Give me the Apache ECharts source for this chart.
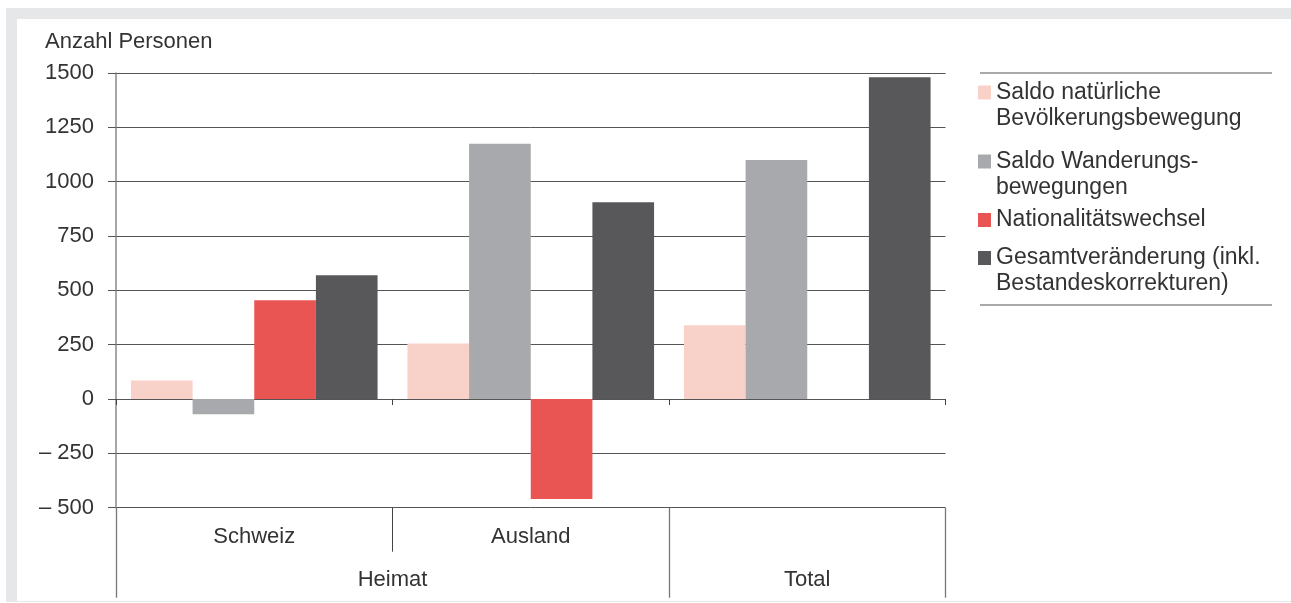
<!DOCTYPE html>
<html lang="de">
<head>
<meta charset="utf-8">
<title>Bevölkerungsveränderung nach Heimat</title>
<script src="https://cdn.jsdelivr.net/npm/echarts@6/dist/echarts.min.js"></script>
<style>
  html, body { margin: 0; padding: 0; background: #ffffff; }
  #frame { position: absolute; left: 6px; top: 8px; width: 1285px; height: 594px; background: #e6e7e8; }
  #panel { position: absolute; left: 17px; top: 19px; width: 1274px; height: 582px; background: #ffffff; }
  #chart { position: absolute; left: 0; top: 0; width: 1291px; height: 603px; }
</style>
</head>
<body>
<div id="frame"></div>
<div id="panel"></div>
<div id="chart"></div>
<script>
// Kategorien der ersten Ebene und ihre Gruppierung (zweite Ebene)
const categories = ['Schweiz', 'Ausland', 'Total'];
const subLabels = ['Schweiz', 'Ausland'];
const groups = [
  { name: 'Heimat', span: 2 },
  { name: 'Total', span: 1 }
];

// Werte je Komponente der Bevölkerungsveränderung
const seriesNames = [
  'Saldo natürliche\nBevölkerungsbewegung',
  'Saldo Wanderungs-\nbewegungen',
  'Nationalitätswechsel',
  'Gesamtveränderung (inkl.\nBestandeskorrekturen)'
];
const saldoNatuerlich = [85, 255, 340];
const saldoWanderung = [-70, 1175, 1100];
const nationalitaetswechsel = [455, -460, null];
const gesamtveraenderung = [570, 905, 1480];

const yTicks = [-500, -250, 0, 250, 500, 750, 1000, 1250, 1500];

const colors = ['#f8d1c8', '#a8a9ad', '#e85552', '#58585a'];
const values = [saldoNatuerlich, saldoWanderung, nationalitaetswechsel, gesamtveraenderung];

const FONT = 'Liberation Sans';
const TXT = '#333333';
const GRID_LINE = '#555555';
const LINE_H = 26;

// Positionen der Beschriftungen auf den beiden Kategorie-Ebenen
const subPos = subLabels.map((_, i) => i + 0.5);
const groupPos = [];
const groupEdges = [0];
let acc = 0;
groups.forEach(g => { groupPos.push(acc + g.span / 2); acc += g.span; groupEdges.push(acc); });
const subEdges = [];
for (let i = 1; i < subLabels.length; i++) subEdges.push(i);

const subLabelMap = {};
subPos.forEach((p, i) => { subLabelMap[p] = subLabels[i]; });
const groupLabelMap = {};
groupPos.forEach((p, i) => { groupLabelMap[p] = groups[i].name; });

// Legende: ein Block je Reihe, Quadrat auf Höhe der ersten Textzeile
const legendTops = [79.5, 148.5, 207, 245];
const SQ_W = 13, SQ_H = 14;

const chart = echarts.init(document.getElementById('chart'), null, { renderer: 'canvas' });

const legends = seriesNames.map((name, i) => {
  const lines = name.split('\n').length;
  const boxH = lines > 1 ? SQ_H + LINE_H * (lines - 1) : SQ_H;
  const icon = lines > 1
    ? 'path://M0,0H' + SQ_W + 'V' + SQ_H + 'H0Z M' + SQ_W + ',' + boxH + 'L' + SQ_W + ',' + boxH
    : 'rect';
  return {
    data: [name],
    orient: 'vertical',
    left: 978,
    top: legendTops[i],
    padding: 0,
    icon: icon,
    itemWidth: SQ_W,
    itemHeight: boxH,
    selectedMode: false,
    textStyle: {
      fontFamily: FONT,
      fontSize: 23,
      color: TXT,
      lineHeight: LINE_H
    }
  };
});

chart.setOption({
  animation: false,
  textStyle: { fontFamily: FONT },
  title: {
    text: 'Anzahl Personen',
    left: 45,
    top: 31,
    padding: 0,
    textStyle: { fontFamily: FONT, fontSize: 22, fontWeight: 'normal', color: TXT }
  },
  legend: legends,
  grid: { left: 116, right: 345.5, top: 73, bottom: 95.3, containLabel: false },
  xAxis: [
    {
      type: 'category',
      data: categories,
      axisLine: { onZero: true, lineStyle: { color: GRID_LINE, width: 1 } },
      axisTick: { show: true, length: 6, lineStyle: { color: '#444', width: 1 } },
      axisLabel: { show: false },
      splitLine: { show: false }
    },
    {
      type: 'value',
      min: 0,
      max: categories.length,
      position: 'bottom',
      axisLine: { show: false, onZero: false },
      axisTick: { show: true, length: 44, customValues: subEdges, lineStyle: { color: '#444', width: 1 } },
      axisLabel: {
        customValues: subPos,
        margin: 18,
        fontFamily: FONT,
        fontSize: 22,
        color: TXT,
        formatter: v => subLabelMap[v] || ''
      },
      splitLine: { show: false }
    },
    {
      type: 'value',
      min: 0,
      max: categories.length,
      position: 'bottom',
      axisLine: { show: false, onZero: false },
      axisTick: { show: true, length: 90, customValues: groupEdges, lineStyle: { color: '#777', width: 1.3 } },
      axisLabel: {
        customValues: groupPos,
        margin: 61,
        fontFamily: FONT,
        fontSize: 22,
        color: TXT,
        formatter: v => groupLabelMap[v] || ''
      },
      splitLine: { show: false }
    }
  ],
  yAxis: {
    type: 'value',
    min: yTicks[0],
    max: yTicks[yTicks.length - 1],
    interval: yTicks[1] - yTicks[0],
    axisLine: { show: true, lineStyle: { color: '#8a8a8a', width: 1.5 } },
    axisTick: { show: true, length: 8, lineStyle: { color: GRID_LINE } },
    axisLabel: {
      margin: 22,
      fontFamily: FONT,
      fontSize: 22,
      color: TXT,
      formatter: v => (v < 0 ? '\u2013 ' + Math.abs(v) : String(v))
    },
    splitLine: { show: true, lineStyle: { color: GRID_LINE, width: 1 } }
  },
  graphic: [
    { type: 'line', shape: { x1: 980, y1: 73, x2: 1272, y2: 73 }, style: { stroke: '#555', lineWidth: 1 } },
    { type: 'line', shape: { x1: 980, y1: 305, x2: 1272, y2: 305 }, style: { stroke: '#555', lineWidth: 1 } }
  ],
  series: seriesNames.map((name, i) => ({
    name: name,
    type: 'bar',
    xAxisIndex: 0,
    data: values[i],
    barGap: '0%',
    barCategoryGap: '10.8%',
    itemStyle: { color: colors[i] },
    emphasis: { disabled: true }
  }))
});
</script>
</body>
</html>
